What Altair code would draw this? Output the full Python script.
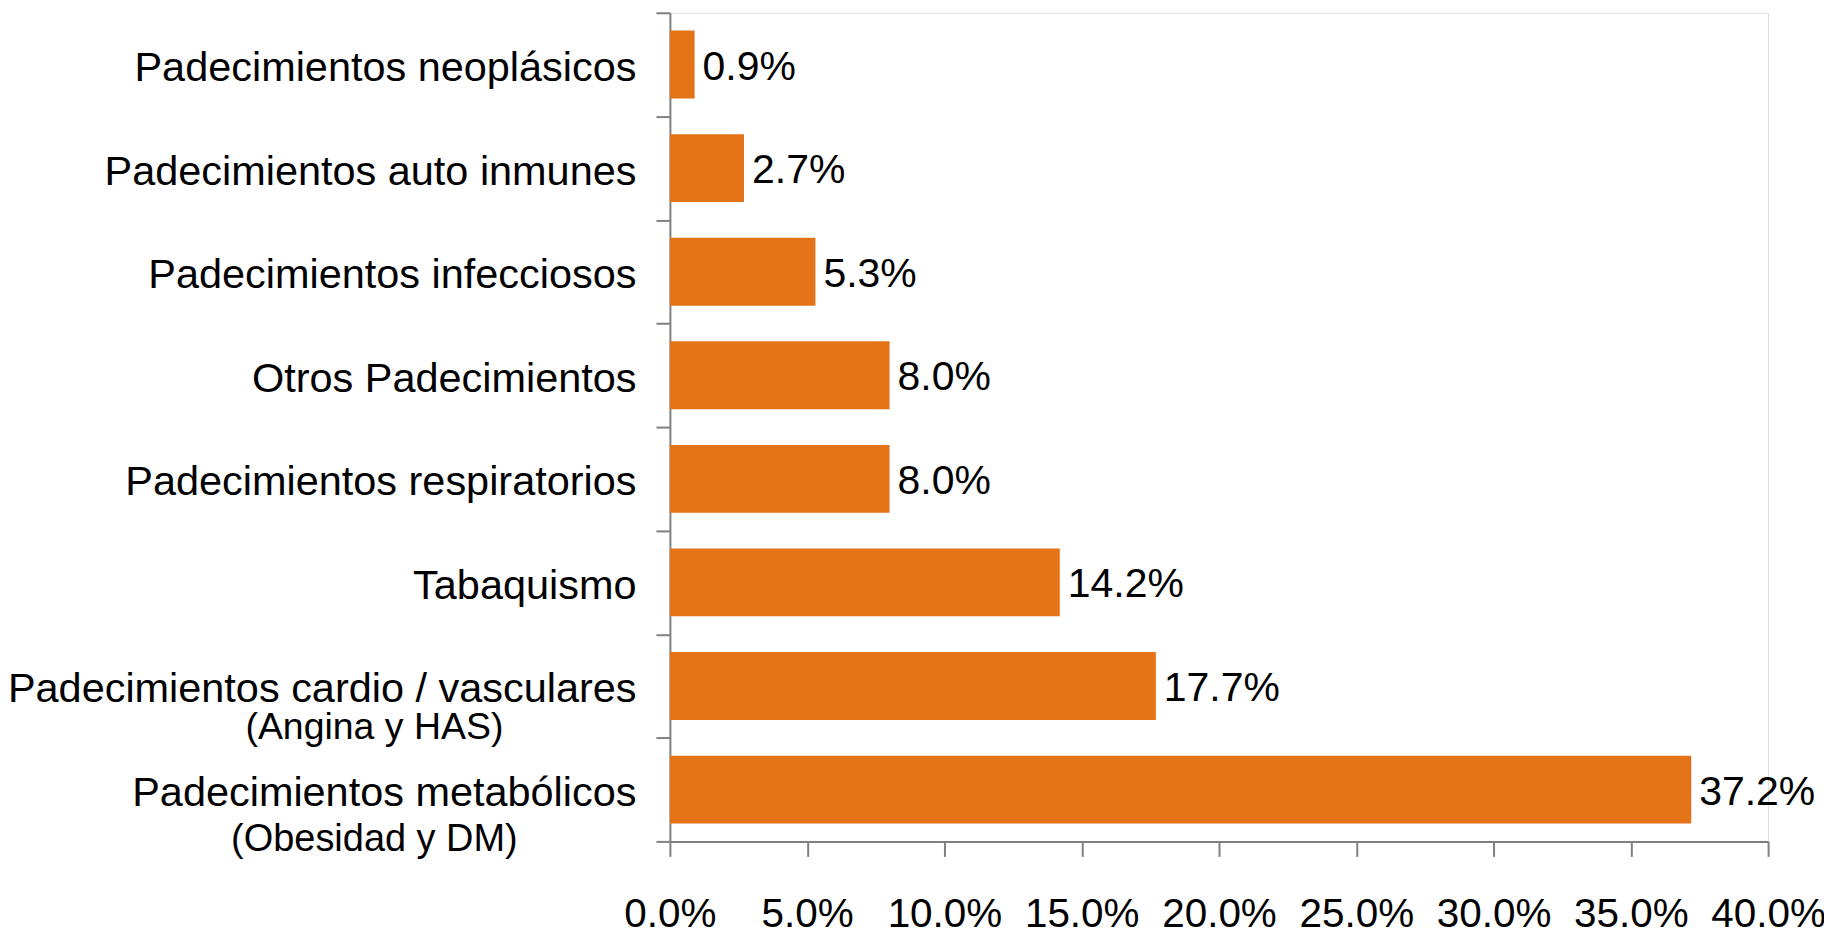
import altair as alt
import pandas as pd

categories = [
    "Padecimientos neoplásicos",
    "Padecimientos auto inmunes",
    "Padecimientos infecciosos",
    "Otros Padecimientos",
    "Padecimientos respiratorios",
    "Tabaquismo",
    "Padecimientos cardio / vasculares",
    "Padecimientos metabólicos",
]
values = [0.9, 2.7, 5.3, 8.0, 8.0, 14.2, 17.7, 37.2]
subtitles = ["", "", "", "", "", "", "(Angina y HAS)", "(Obesidad y DM)"]
tick_values = [0, 5, 10, 15, 20, 25, 30, 35, 40]

df = pd.DataFrame({"cat": categories, "val": values, "sub": subtitles})

BAR = "#E47318"
AXIS = "#808080"
W, H = 1100, 830
MAIN_FONT = "Liberation Sans, Arial, sans-serif"

y_axis = alt.Axis(
    domainColor=AXIS, domainWidth=2, tickColor=AXIS, tickWidth=2, tickSize=14,
    tickBand="extent", labelFont=MAIN_FONT, labelFontSize=41.5, labelColor="black",
    labelPadding=20, labelOffset=4, labelBaseline="middle", labelLimit=0,
)
x_axis = alt.Axis(
    values=tick_values, labelExpr="format(datum.value, '.1f') + '%'", grid=False,
    domainColor=AXIS, domainWidth=2, tickColor=AXIS, tickWidth=2, tickSize=15,
    labelFont=MAIN_FONT, labelFontSize=40.5, labelPadding=38, labelColor="black",
    labelFlush=False, labelOverlap=False,
)

base = alt.Chart(df)
y_full = alt.Y("cat:N", sort=categories, title=None,
               scale=alt.Scale(paddingInner=0, paddingOuter=0), axis=y_axis)
y_plain = alt.Y("cat:N", sort=categories, title=None)

bars = base.mark_bar(color=BAR, height=alt.RelativeBandSize(0.655)).encode(
    x=alt.X("val:Q", title=None, scale=alt.Scale(domain=[0, 40], nice=False), axis=x_axis),
    y=y_full,
)

labels = base.transform_calculate(
    label="format(datum.val, '.1f') + '%'"
).mark_text(
    align="left", baseline="middle", dx=8, dy=3, font=MAIN_FONT, fontSize=41, color="black"
).encode(x=alt.X("val:Q"), y=y_plain, text="label:N")

sub1 = base.transform_filter(alt.datum.cat == categories[6]).mark_text(
    align="center", baseline="middle", dy=42, font=MAIN_FONT, fontSize=37.5, color="black"
).encode(x=alt.value(-296), y=y_plain, text="sub:N")

sub2 = base.transform_filter(alt.datum.cat == categories[7]).mark_text(
    align="center", baseline="middle", dy=51, font=MAIN_FONT, fontSize=38, color="black"
).encode(x=alt.value(-296), y=y_plain, text="sub:N")

chart = alt.layer(bars, labels, sub1, sub2).properties(
    width=W, height=H,
    autosize=alt.AutoSizeParams(type="none"),
    padding={"left": 663, "top": 4, "right": 56, "bottom": 91},
).configure_view(stroke=None).configure(background="white")

chart.save("out.html", embed_options={"renderer": "svg", "actions": False})
